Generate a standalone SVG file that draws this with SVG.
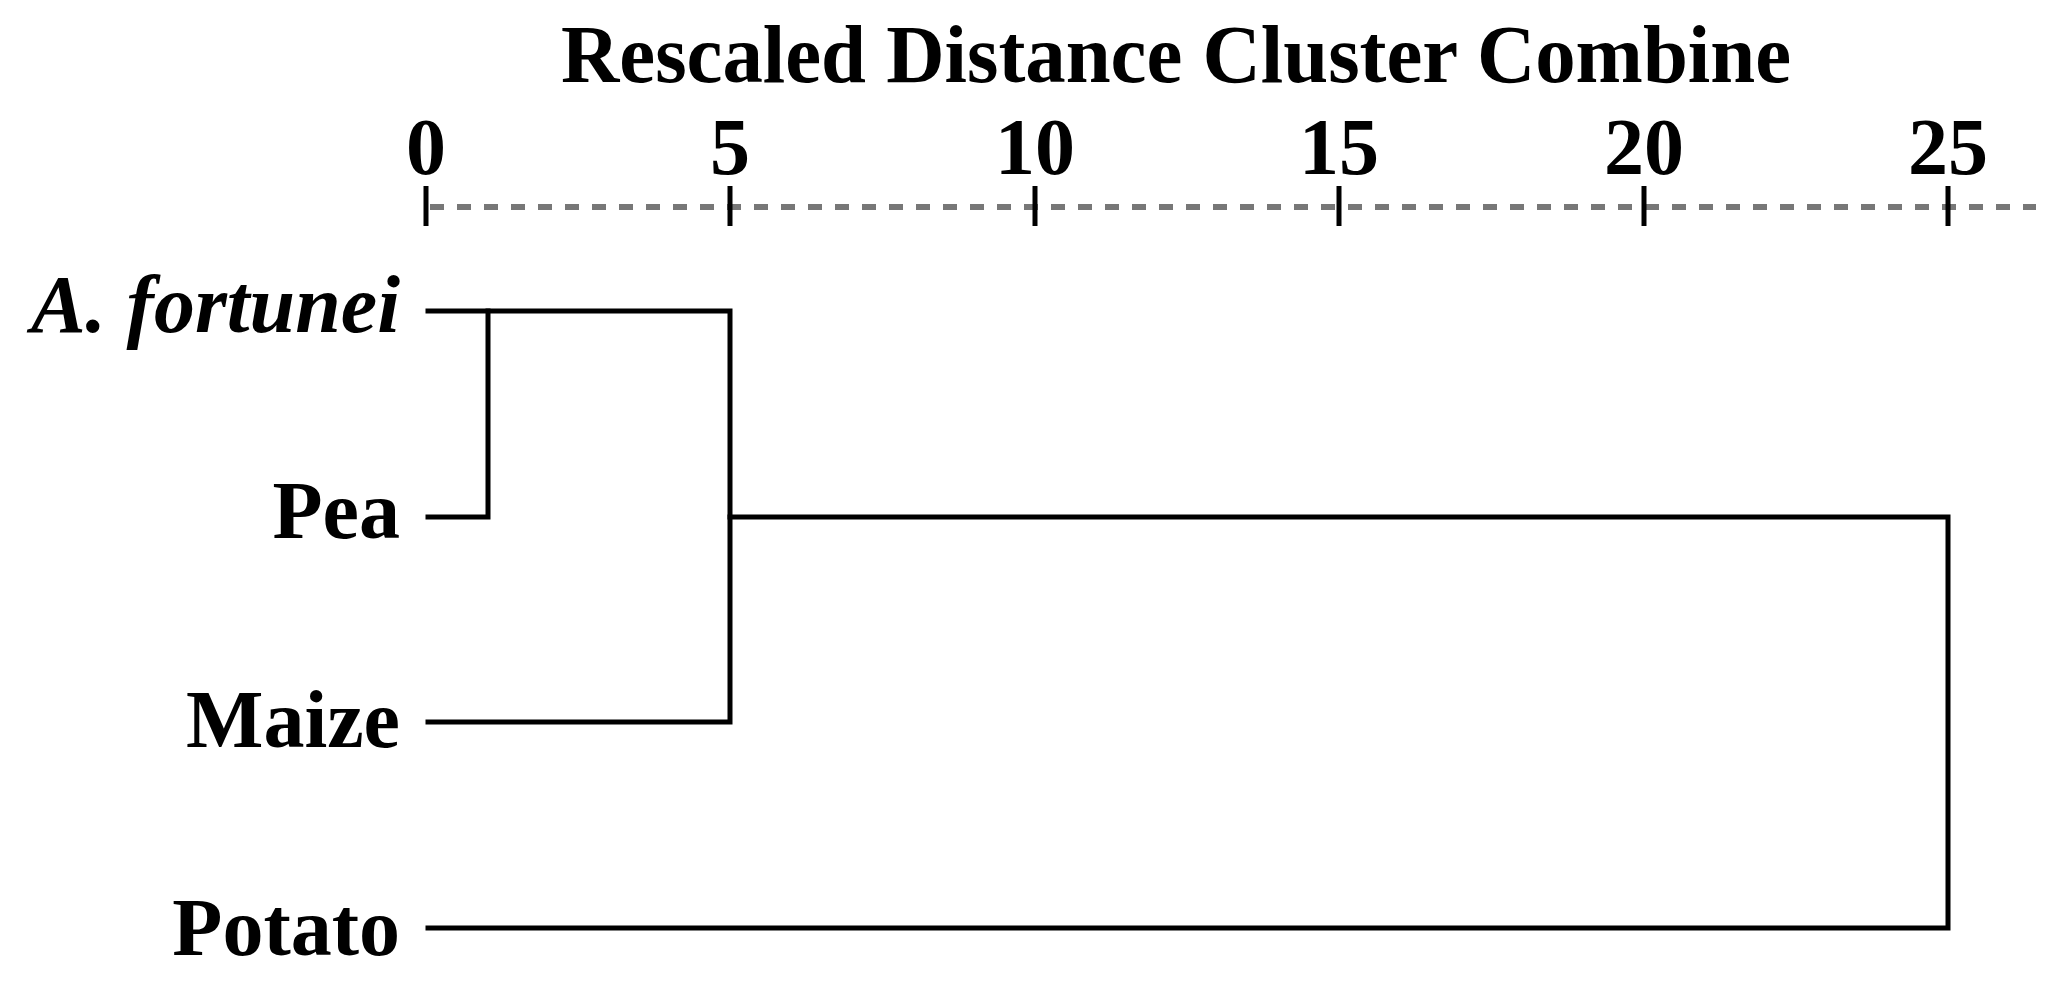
<svg xmlns="http://www.w3.org/2000/svg" width="2057" height="992" viewBox="0 0 2057 992">
<style>
text{font-family:"Liberation Serif","Times New Roman",serif;font-weight:bold;fill:#000}
.num{font-size:80px;text-anchor:middle}
.lab{font-size:82px;text-anchor:end}
.tick{stroke:#000;stroke-width:5}
.br{stroke:#000;stroke-width:5;fill:none;stroke-linecap:square}
</style>
<rect width="2057" height="992" fill="#fff"/>
<g id="axis">
<text x="1176" y="82" font-size="82" text-anchor="middle" textLength="1230" lengthAdjust="spacingAndGlyphs">Rescaled Distance Cluster Combine</text>
<line x1="430" y1="207" x2="2036" y2="207" stroke="#777" stroke-width="6" stroke-dasharray="14 13"/>
<line class="tick" x1="426" y1="186" x2="426" y2="226"/>
<line class="tick" x1="730" y1="186" x2="730" y2="226"/>
<line class="tick" x1="1035" y1="186" x2="1035" y2="226"/>
<line class="tick" x1="1339" y1="186" x2="1339" y2="226"/>
<line class="tick" x1="1644" y1="186" x2="1644" y2="226"/>
<line class="tick" x1="1948" y1="186" x2="1948" y2="226"/>
<text class="num" x="426" y="174">0</text>
<text class="num" x="730" y="174">5</text>
<text class="num" x="1035" y="174">10</text>
<text class="num" x="1339" y="174">15</text>
<text class="num" x="1644" y="174">20</text>
<text class="num" x="1948" y="174">25</text>
</g>
<g id="leaf-afortunei"><text class="lab" x="400" y="332" font-style="italic">A. fortunei</text></g>
<g id="leaf-pea"><text class="lab" x="400" y="538">Pea</text></g>
<g id="leaf-maize"><text class="lab" x="400" y="747">Maize</text></g>
<g id="leaf-potato"><text class="lab" x="400" y="955">Potato</text></g>
<g id="connectors">
<path class="br" d="M428 311 H730 V722 H428"/>
<path class="br" d="M428 517 H488 V311"/>
<path class="br" d="M730 517 H1948 V928 H428"/>
</g>
</svg>
